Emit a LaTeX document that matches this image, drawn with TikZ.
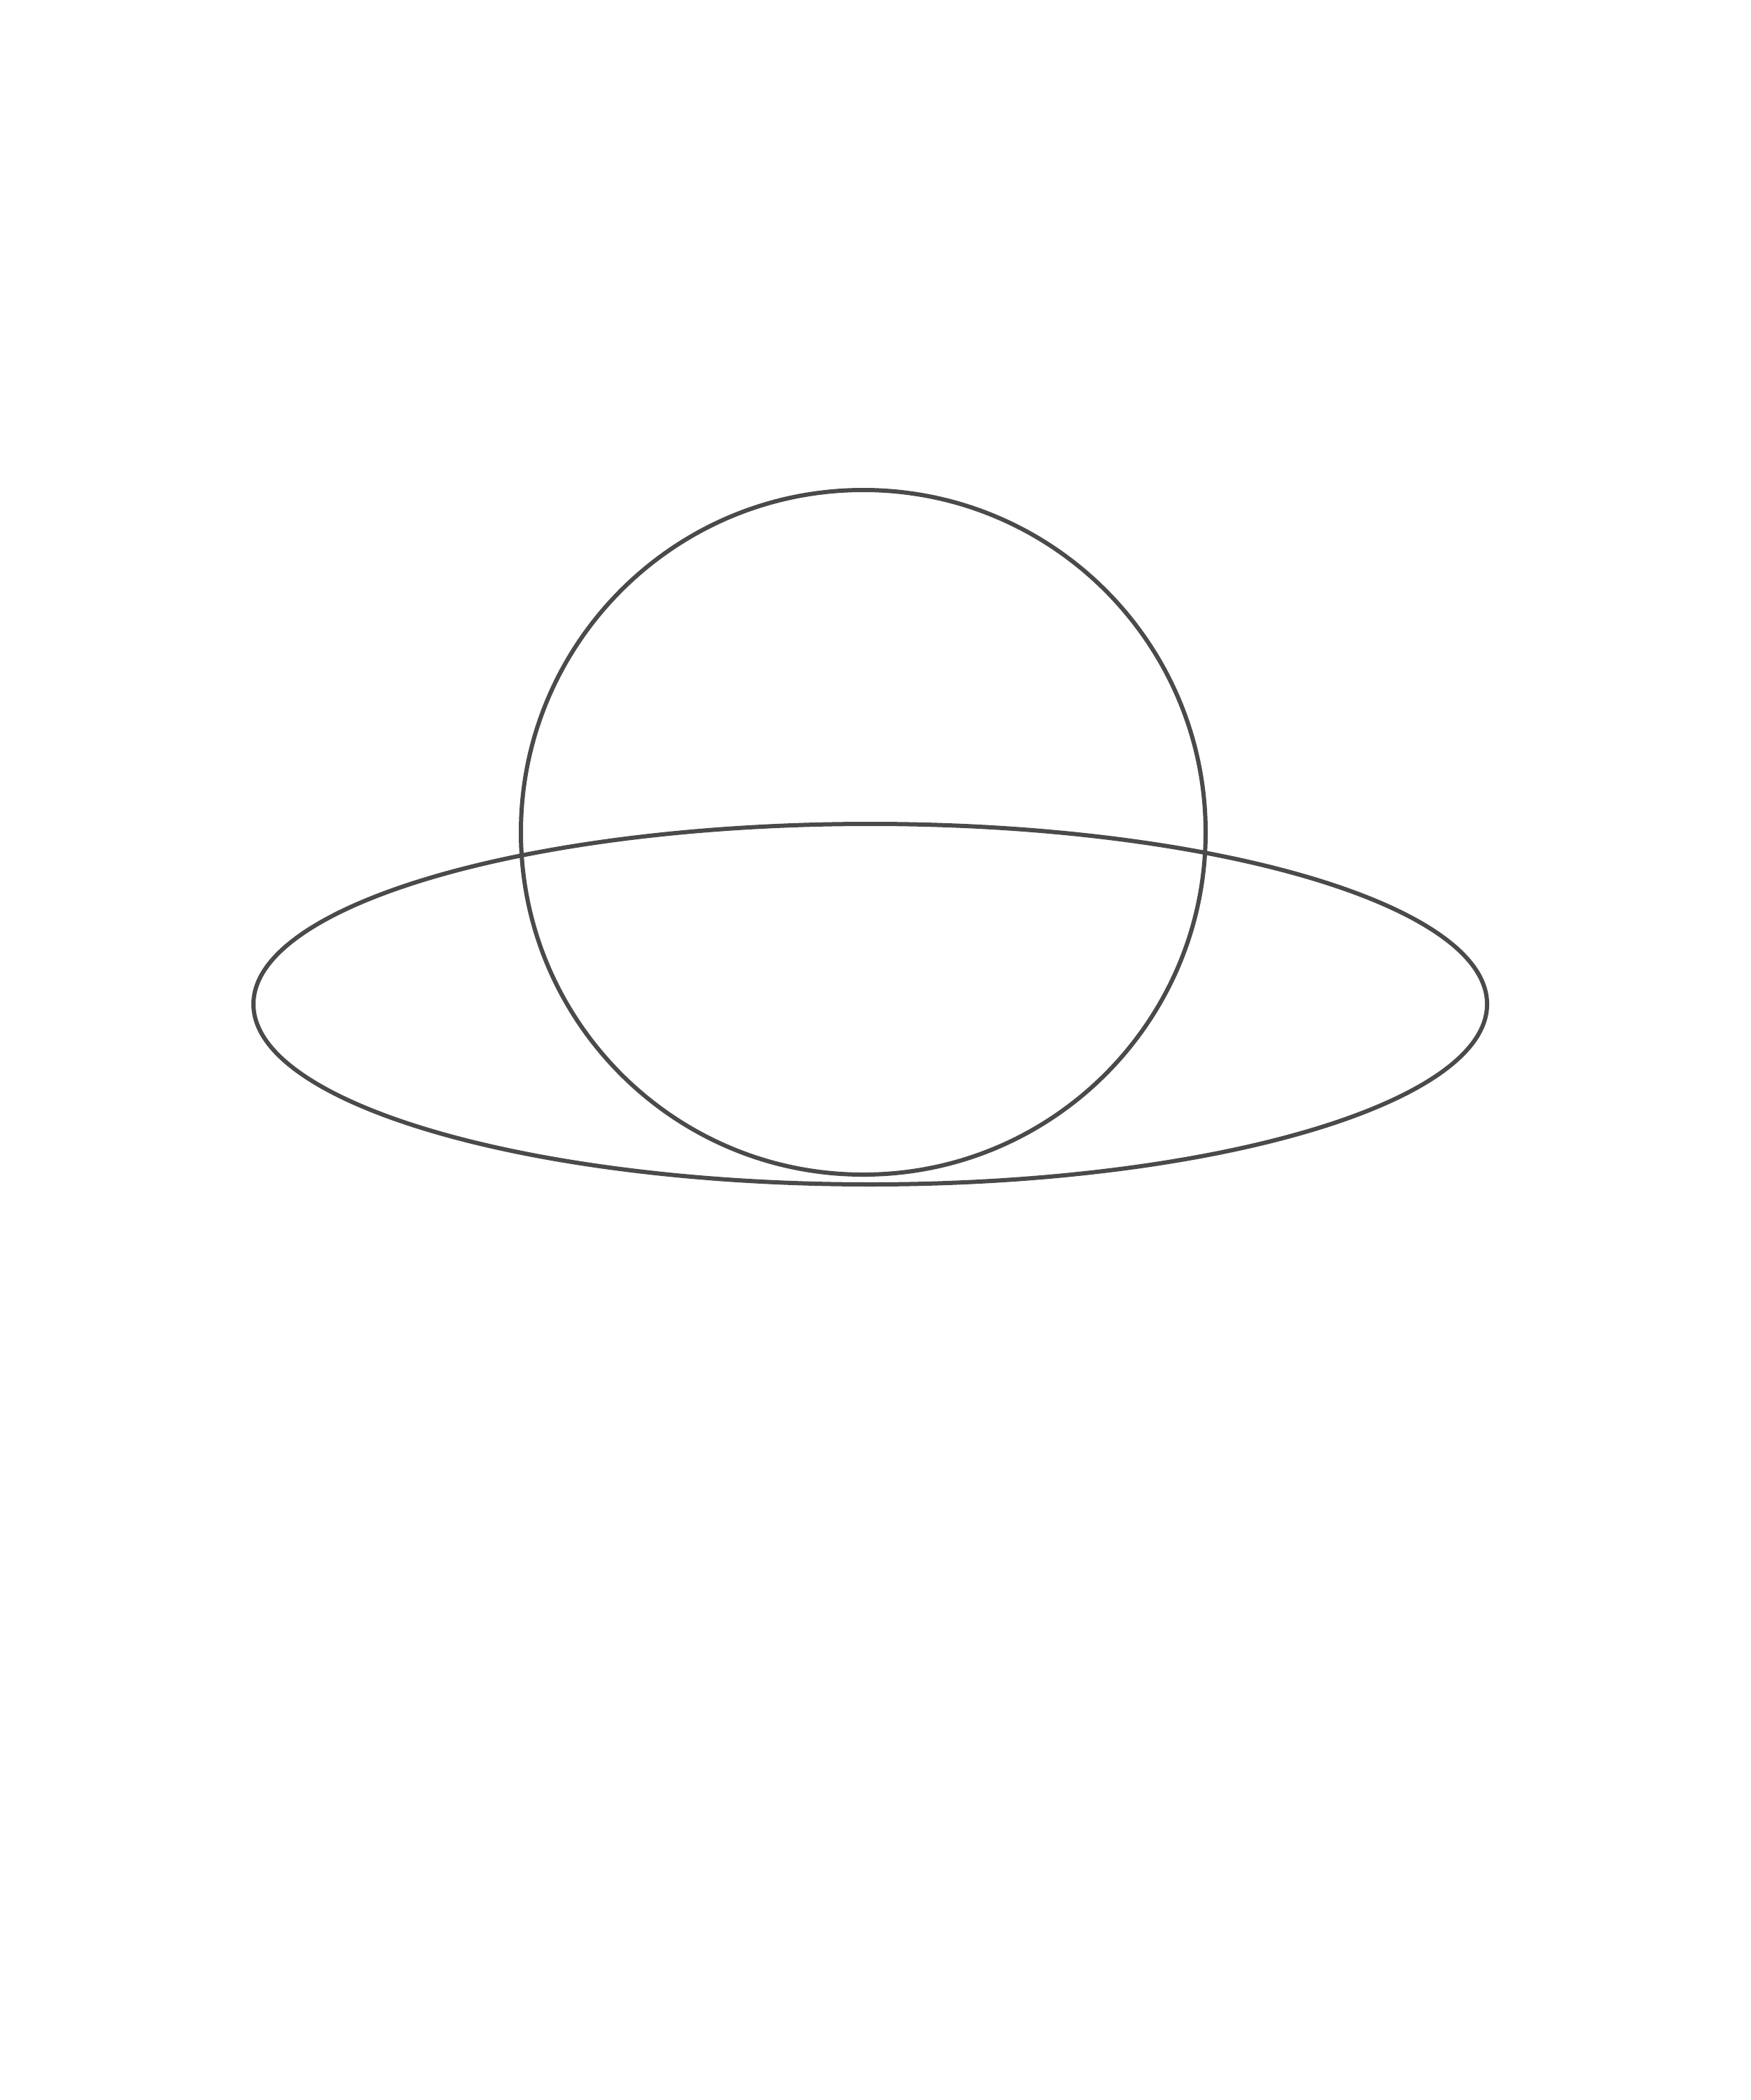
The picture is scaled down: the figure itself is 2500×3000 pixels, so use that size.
\documentclass[tikz,border=0pt]{standalone}
\begin{document}
\begin{tikzpicture}[x=0.1mm,y=-0.1mm,
  outline/.style={draw=black!71,line width=0.6mm}]
\useasboundingbox (0,0) rectangle (2500,3000);
\fill[white] (0,0) rectangle (2500,3000);
\draw[outline] (1233,1189) circle [radius=489];
\draw[outline] (1243,1434.5) ellipse [x radius=881, y radius=257.5];
\end{tikzpicture}
\end{document}
